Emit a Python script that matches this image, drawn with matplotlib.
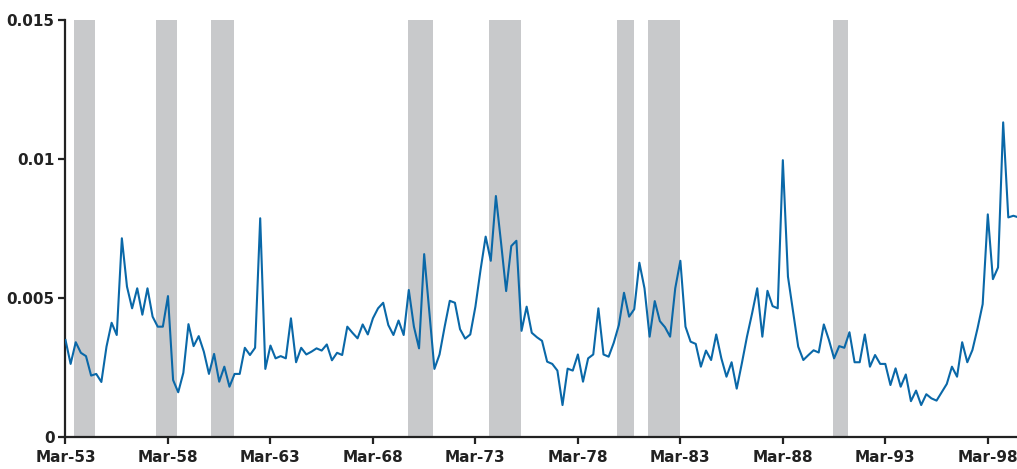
import matplotlib
matplotlib.use("Agg")
import matplotlib.pyplot as plt

# quarterly series, first value = Mar-53 (quarter index 0)
values = [
    0.00349, 0.00263, 0.00341, 0.00303, 0.00291, 0.00221, 0.00227, 0.00198, 0.00325, 0.00411,
    0.00367, 0.00715, 0.00541, 0.00463, 0.00535, 0.00440, 0.00535, 0.00433, 0.00397, 0.00397,
    0.00507, 0.00205, 0.00161, 0.00231, 0.00406, 0.00327, 0.00363, 0.00307, 0.00227, 0.00299,
    0.00199, 0.00253, 0.00181, 0.00227, 0.00227, 0.00321, 0.00295, 0.00321, 0.00787, 0.00245,
    0.00329, 0.00283, 0.00291, 0.00283, 0.00427, 0.00269, 0.00321, 0.00297, 0.00307, 0.00319,
    0.00311, 0.00333, 0.00276, 0.00303, 0.00295, 0.00397, 0.00375, 0.00355, 0.00405, 0.00369,
    0.00427, 0.00463, 0.00483, 0.00403, 0.00367, 0.00419, 0.00367, 0.00529, 0.00397, 0.00319,
    0.00658, 0.00450, 0.00245, 0.00297, 0.00397, 0.00490, 0.00483, 0.00388, 0.00354, 0.00369,
    0.00469, 0.00601, 0.00721, 0.00634, 0.00867, 0.00700, 0.00525, 0.00687, 0.00706, 0.00382,
    0.00469, 0.00375, 0.00359, 0.00346, 0.00271, 0.00263, 0.00239, 0.00115, 0.00246, 0.00239,
    0.00297, 0.00199, 0.00283, 0.00297, 0.00463, 0.00297, 0.00289, 0.00339, 0.00403, 0.00519,
    0.00433, 0.00460, 0.00627, 0.00535, 0.00361, 0.00489, 0.00417, 0.00395, 0.00361, 0.00535,
    0.00634, 0.00397, 0.00343, 0.00335, 0.00253, 0.00311, 0.00277, 0.00369, 0.00283, 0.00217,
    0.00269, 0.00174, 0.00265, 0.00361, 0.00445, 0.00535, 0.00361, 0.00526, 0.00471, 0.00463,
    0.00996, 0.00577, 0.00451, 0.00325, 0.00277, 0.00295, 0.00312, 0.00304, 0.00405, 0.00349,
    0.00283, 0.00327, 0.00321, 0.00377, 0.00269, 0.00269, 0.00369, 0.00253, 0.00295, 0.00263,
    0.00263, 0.00187, 0.00247, 0.00181, 0.00225, 0.00129, 0.00167, 0.00115, 0.00154, 0.00139,
    0.00131, 0.00161, 0.00191, 0.00253, 0.00217, 0.00341, 0.00269, 0.00313, 0.00391, 0.00478,
    0.00801, 0.00568, 0.00610, 0.01132, 0.00790, 0.00796, 0.00790,
]
quarters = list(range(len(values)))

# recession bands, in quarters since Mar-53
rec_start = [1.7, 17.7, 28.4, 66.8, 82.6, 107.6, 113.7, 149.8]
rec_end = [5.8, 21.8, 32.9, 71.7, 88.9, 110.9, 119.9, 152.7]

tick_years = [53, 58, 63, 68, 73, 78, 83, 88, 93, 98]
tick_labels = [f"Mar-{y}" for y in tick_years]
y_ticks = [0, 0.005, 0.01, 0.015]
y_labels = ["0", "0.005", "0.01", "0.015"]

plt.rcParams['font.family'] = ['DejaVu Sans']
plt.rcParams['font.weight'] = 'bold'

fig = plt.figure(figsize=(10.17, 4.69), dpi=100)
ax = fig.add_axes([0.0644, 0.0682, 0.9356, 0.889])

for s, e in zip(rec_start, rec_end):
    ax.axvspan(s, e, color='#c8c9cb', lw=0, zorder=1)

ax.plot(quarters, values, color='#0a68a8', lw=1.5, zorder=3)

ax.set_xlim(0, 185.7)
ax.set_ylim(0, 0.015)
ax.set_xticks([(y - 53) * 4 for y in tick_years])
ax.set_xticklabels(tick_labels)
ax.set_yticks(y_ticks)
ax.set_yticklabels(y_labels)

for side in ['top', 'right']:
    ax.spines[side].set_visible(False)
for side in ['left', 'bottom']:
    ax.spines[side].set_linewidth(1.6)
    ax.spines[side].set_color('#222222')
ax.tick_params(direction='out', length=5, width=1.6, color='#222222',
               labelsize=11, labelcolor='#222222', pad=3)
ax.tick_params(axis='x', pad=4)

fig.savefig('out.png', dpi=100)
